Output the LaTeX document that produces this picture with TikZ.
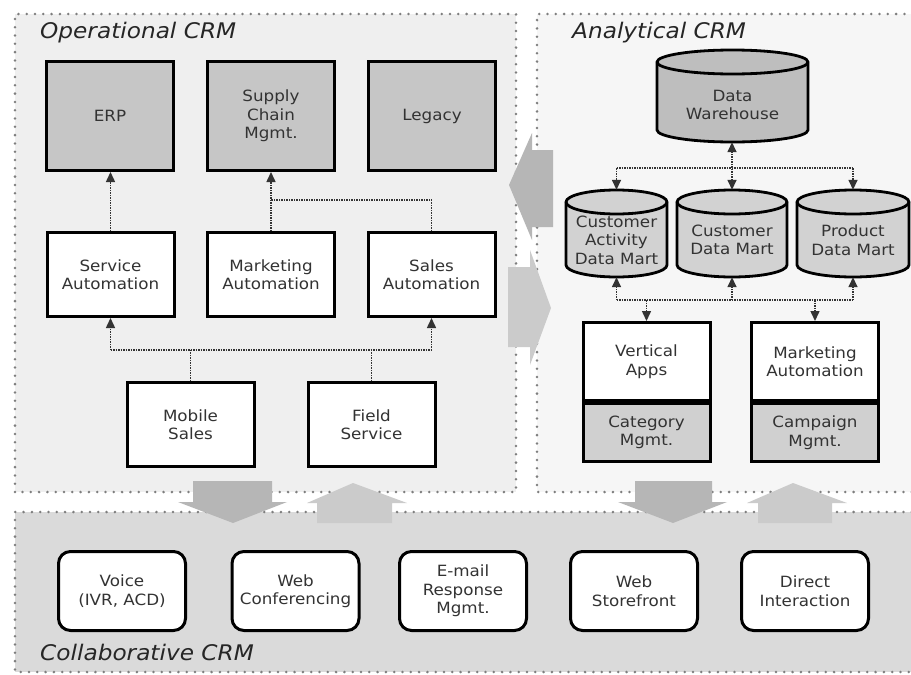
\documentclass[tikz,border=0pt]{standalone}
\usepackage{fontspec}
\setmainfont{DejaVu Sans}[FakeStretch=1.08]
\usetikzlibrary{arrows.meta}
\definecolor{panelop}{HTML}{EFEFEF}
\definecolor{panelan}{HTML}{F6F6F6}
\definecolor{panelco}{HTML}{DADADA}
\definecolor{dotc}{HTML}{7E7E7E}
\definecolor{boxg}{HTML}{C6C6C6}
\definecolor{dwg}{HTML}{BEBEBE}
\definecolor{dmg}{HTML}{D2D2D2}
\definecolor{subg}{HTML}{D0D0D0}
\definecolor{arrdn}{HTML}{B6B6B6}
\definecolor{arrup}{HTML}{CBCBCB}
\definecolor{txtc}{HTML}{333333}
\definecolor{conc}{HTML}{333333}
\newcommand{\crmnodefont}{\fontsize{15.5}{18.5}\selectfont}
\newcommand{\crmtitlefont}{\fontsize{21.5}{25}\selectfont\itshape}
\newcommand{\crmcyl}[8]{%
  \pgfmathsetmacro{\crmrx}{(#3-#2)/2}%
  \pgfmathsetmacro{\crmxc}{(#2+#3)/2}%
  \pgfmathsetmacro{\crmyt}{-(#4)-12}%
  \pgfmathsetmacro{\crmyb}{-(#5)+12}%
  \pgfmathsetmacro{\crmym}{-(#4+#5)/2}%
  \pgfmathsetmacro{\crmw}{#3-#2}%
  \pgfmathsetmacro{\crmh}{#5-#4}%
  \filldraw[fill=#6, draw=black, line width=2.8pt] (#2,\crmyt) -- (#2,\crmyb)
     arc[start angle=180, end angle=360, x radius=\crmrx, y radius=12] -- (#3,\crmyt)
     arc[start angle=0, end angle=180, x radius=\crmrx, y radius=12] -- cycle;
  \draw[line width=2.8pt] (#2,\crmyt) arc[start angle=180, end angle=360, x radius=\crmrx, y radius=12];
  \node[minimum width=\crmw pt, minimum height=\crmh pt, inner sep=0pt] (#1) at (\crmxc,\crmym) {};
  \node[txtn] (#1-t) at (\crmxc,-#8) {#7};
}
\begin{document}
\begin{tikzpicture}[x=1pt,y=1pt,
  panel/.style={draw=dotc, line width=2.8pt, dash pattern=on 0pt off 8.3pt, line cap=round},
  txtn/.style={text=txtc, align=center, font=\crmnodefont, inner sep=0pt},
  bx/.style={txtn, draw=black, line width=3pt, minimum width=127pt, minimum height=84pt},
  gbx/.style={bx, fill=boxg, minimum height=109pt},
  wbx/.style={bx, fill=white},
  cbx/.style={bx, fill=white, rounded corners=12pt, minimum height=79pt},
  crmtitle/.style={font=\crmtitlefont, text=black!85, anchor=base west, inner sep=0pt},
  dotl/.style={draw=conc, line width=1.5pt, densely dotted},
  conn/.style={dotl, -{Triangle[length=10pt,width=9pt]}},
  connb/.style={dotl, {Triangle[length=10pt,width=9pt]}-{Triangle[length=10pt,width=9pt]}},
  blkdn/.style={fill=arrdn, draw=none},
  blkup/.style={fill=arrup, draw=none}]
\useasboundingbox (0,-675) rectangle (911,0);
\clip (0,-675) rectangle (911,0);
\fill[white] (0,-675) rectangle (911,0);

% panels
\fill[panelop] (15,-14) rectangle (516,-492);
\draw[panel] (15,-492) -- (15,-14) -- (516,-14) -- (516,-492) -- cycle;
\fill[panelan] (537,-14) rectangle (920,-492);
\draw[panel] (920,-492) -- (537,-492) -- (537,-14) -- (920,-14);
\fill[panelco] (15,-512) rectangle (920,-672);
\draw[panel] (920,-512) -- (15,-512) -- (15,-672) -- (920,-672);

% titles
\node[crmtitle] (optitle) at (40,-38) {Operational CRM};
\node[crmtitle] (antitle) at (572,-38) {Analytical CRM};
\node[crmtitle] (cotitle) at (40,-660) {Collaborative CRM};

% operational boxes
\node[gbx] (erp) at (110,-116) {ERP};
\node[gbx] (scm) at (271,-116) {Supply\\Chain\\Mgmt.};
\node[gbx] (leg) at (432,-116) {Legacy};
\node[wbx] (sa) at (110.5,-274.5) {Service\\Automation};
\node[wbx] (ma) at (271,-274.5) {Marketing\\Automation};
\node[wbx] (sla) at (431.5,-274.5) {Sales\\Automation};
\node[wbx] (mob) at (190.5,-424.5) {Mobile\\Sales};
\node[wbx] (fs) at (371.5,-424.5) {Field\\Service};

% operational connectors
\draw[conn] (sa.north) -- (sa.north |- erp.south);
\draw[conn] (ma.north) -- (ma.north |- scm.south);
\coordinate (jsc) at (271,-200);
\draw[dotl] (sla.north) |- (jsc);
\coordinate (hl) at (110.5,-350);
\coordinate (hr) at (431.5,-350);
\draw[dotl] (hl) -- (hr);
\draw[conn] (hl) -- (sa.south);
\draw[conn] (hr) -- (sla.south);
\draw[dotl] (mob.north) -- (mob.north |- hl);
\draw[dotl] (fs.north) -- (fs.north |- hl);

% analytical cylinders
\crmcyl{dw}{657}{808}{50}{142}{dwg}{Data\\Warehouse}{105}
\crmcyl{cadm}{566}{667}{190}{277}{dmg}{Customer\\Activity\\Data Mart}{240}
\crmcyl{cdm}{677}{787}{190}{277}{dmg}{Customer\\Data Mart}{240}
\crmcyl{pdm}{797}{909}{190}{277}{dmg}{Product\\Data Mart}{240}

% analytical boxes
\node[wbx, minimum height=78pt] (va) at (646.5,-361.5) {Vertical\\Apps};
\node[bx, fill=subg, minimum height=58pt] (cat) at (646.5,-432.5) {Category\\Mgmt.};
\node[wbx, minimum height=78pt] (mka) at (815,-361.5) {Marketing\\Automation};
\node[bx, fill=subg, minimum height=58pt] (cmp) at (815,-432.5) {Campaign\\Mgmt.};

% analytical connectors
\coordinate (ya) at (0,-168);
\coordinate (yb) at (0,-300);
\draw[connb] (cdm.north) -- (cdm.north |- dw.south);
\draw[dotl] (cadm.north |- ya) -- (pdm.north |- ya);
\draw[conn] (cadm.north |- ya) -- (cadm.north);
\draw[conn] (pdm.north |- ya) -- (pdm.north);
\draw[dotl] (cadm.south |- yb) -- (pdm.south |- yb);
\draw[conn] (cadm.south |- yb) -- (cadm.south);
\draw[conn] (cdm.south |- yb) -- (cdm.south);
\draw[conn] (pdm.south |- yb) -- (pdm.south);
\draw[conn] (va.north |- yb) -- (va.north);
\draw[conn] (mka.north |- yb) -- (mka.north);

% collaborative boxes
\node[cbx] (voice) at (122,-591) {Voice\\(IVR, ACD)};
\node[cbx] (webc) at (295.5,-591) {Web\\Conferencing};
\node[cbx] (email) at (463,-591) {E-mail\\Response\\Mgmt.};
\node[cbx] (store) at (634,-591) {Web\\Storefront};
\node[cbx] (direct) at (805,-591) {Direct\\Interaction};

% block arrows between panels
\fill[blkdn] (193,-481) -- (272,-481) -- (272,-502) -- (287,-502) -- (233,-523) -- (178,-502) -- (193,-502) -- cycle;
\fill[blkup] (353,-483) -- (407,-503) -- (392,-503) -- (392,-523) -- (317,-523) -- (317,-503) -- (307,-503) -- cycle;
\fill[blkdn] (635,-481) -- (712,-481) -- (712,-502) -- (727,-502) -- (673,-523) -- (618,-502) -- (635,-502) -- cycle;
\fill[blkup] (793,-483) -- (847,-503) -- (832,-503) -- (832,-523) -- (758,-523) -- (758,-503) -- (747,-503) -- cycle;
\fill[fill=arrdn] (509,-185) -- (532,-133) -- (532,-150) -- (553,-150) -- (553,-227) -- (532,-227) -- (532,-240) -- cycle;
\fill[fill=arrup] (508,-267) -- (530,-267) -- (530,-250) -- (551,-308) -- (530,-365) -- (530,-347) -- (508,-347) -- cycle;
\end{tikzpicture}
\end{document}
